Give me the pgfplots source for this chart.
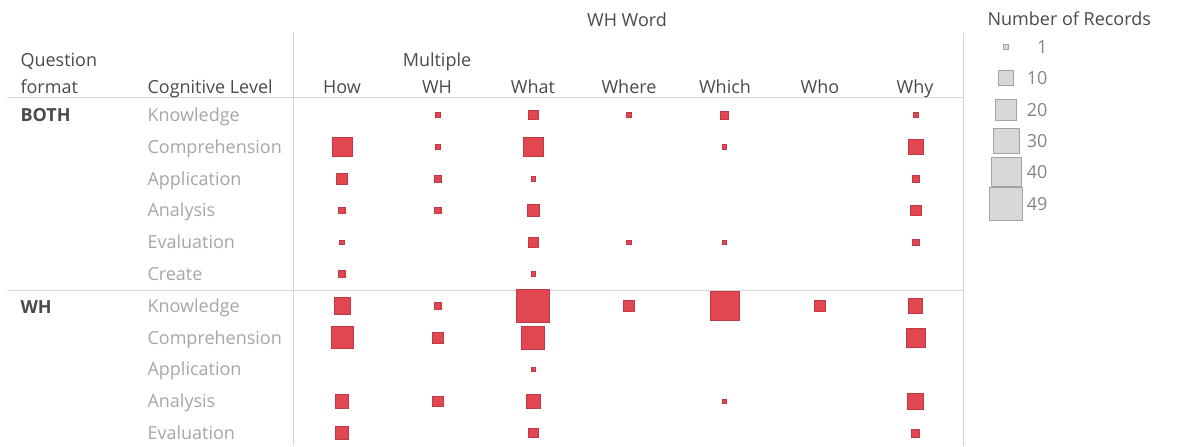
\documentclass[border=0pt]{standalone}
\usepackage{pgfplots}
\pgfplotsset{compat=1.18}
\usepackage{pgfplotstable}
\usepackage{fontspec}
\setmainfont{Open Sans}
\definecolor{tred}{HTML}{E2474F}
\definecolor{tredd}{HTML}{BF3A48}
\definecolor{hdr}{HTML}{4A4A4A}
\definecolor{lvl}{HTML}{A6A6A6}
\definecolor{gline}{HTML}{D6D6D6}
\definecolor{lgfill}{HTML}{D8D8D8}
\definecolor{lgdraw}{HTML}{A3A3A3}

% col: 0 How,1 Multiple WH,2 What,3 Where,4 Which,5 Who,6 Why
% row: 0-5 BOTH (Knowledge..Create), 6-10 WH (Knowledge..Evaluation)
\pgfplotstableread{
col row n
1 0 1
2 0 4
3 0 1
4 0 3
6 0 1
0 1 18
1 1 1
2 1 18
4 1 1
6 1 10
0 2 6
1 2 2
2 2 1
6 2 2
0 3 2
1 3 2
2 3 6
6 3 5
0 4 1
2 4 4
3 4 1
4 4 1
6 4 2
0 5 2
2 5 1
0 6 12
1 6 2
2 6 49
3 6 6
4 6 38
5 6 5
6 6 9
0 7 22
1 7 5
2 7 24
6 7 17
2 8 1
0 9 8
1 9 5
2 9 8
4 9 1
6 9 11
0 10 7
2 10 4
6 10 3
}\datatable

\pgfplotstableread{
px py n
1006 47 1
1006 78 10
1006 110 20
1006 141 30
1006 172 40
1006 204 49
}\legtable

\begin{document}
\begin{tikzpicture}
\begin{axis}[
  x=1bp, y=1bp, y dir=reverse,
  xmin=0, xmax=1197, ymin=0, ymax=446,
  hide axis, clip=false,
  font=\fontsize{18bp}{21bp}\selectfont,
]
\path (axis cs:0,0) rectangle (axis cs:1197,446);
% grid lines
\draw[gline, line width=1bp] (axis cs:7,97.5) -- (axis cs:963,97.5);
\draw[gline, line width=1bp] (axis cs:7,290.5) -- (axis cs:963,290.5);
\draw[gline, line width=1bp] (axis cs:293,32) -- (axis cs:293,446);
\draw[gline, line width=1bp] (axis cs:963,33) -- (axis cs:963,446);

% data
\addplot[scatter, only marks, mark=square*,
  scatter/use mapped color={draw=tredd, fill=tred},
  mark options={line width=0.6bp},
  visualization depends on={2.355*sqrt(\thisrow{n}) \as \msz},
  scatter/@pre marker code/.append style={/tikz/mark size=\msz bp},
  ] table[x expr={342+95.6*\thisrow{col}}, y expr={115+31.8*\thisrow{row}}] {\datatable};

% size legend
\addplot[scatter, only marks, mark=square*,
  scatter/use mapped color={draw=lgdraw, fill=lgfill},
  mark options={line width=0.8bp},
  visualization depends on={2.355*sqrt(\thisrow{n}) \as \msz},
  scatter/@pre marker code/.append style={/tikz/mark size=\msz bp},
  ] table[x=px, y=py] {\legtable};

% headers
\node[anchor=base, text=hdr] at (axis cs:627,27) {WH Word};
\node[anchor=base, text=hdr] at (axis cs:437,66.5) {Multiple};
\node[anchor=base west, text=hdr] at (axis cs:17,66.5) {Question};
\node[anchor=base west, text=hdr] at (axis cs:17,93.5) {format};
\node[anchor=base west, text=hdr] at (axis cs:144,93.5) {Cognitive Level};
\node[anchor=base, text=hdr] at (axis cs:342,93.5) {How};
\node[anchor=base, text=hdr] at (axis cs:437,93.5) {WH};
\node[anchor=base, text=hdr] at (axis cs:533,93.5) {What};
\node[anchor=base, text=hdr] at (axis cs:629,93.5) {Where};
\node[anchor=base, text=hdr] at (axis cs:725,93.5) {Which};
\node[anchor=base, text=hdr] at (axis cs:820,93.5) {Who};
\node[anchor=base, text=hdr] at (axis cs:915,93.5) {Why};

% row groups
\node[anchor=base west, text=hdr, font=\fontsize{18bp}{21bp}\selectfont\bfseries] at (axis cs:17,121.5) {BOTH};
\node[anchor=base west, text=hdr, font=\fontsize{18bp}{21bp}\selectfont\bfseries] at (axis cs:17,313.5) {WH};

% cognitive levels
\node[anchor=base west, text=lvl] at (axis cs:144,121.5) {Knowledge};
\node[anchor=base west, text=lvl] at (axis cs:144,153.3) {Comprehension};
\node[anchor=base west, text=lvl] at (axis cs:144,185.1) {Application};
\node[anchor=base west, text=lvl] at (axis cs:144,216.9) {Analysis};
\node[anchor=base west, text=lvl] at (axis cs:144,248.7) {Evaluation};
\node[anchor=base west, text=lvl] at (axis cs:144,280.5) {Create};
\node[anchor=base west, text=lvl] at (axis cs:144,312.3) {Knowledge};
\node[anchor=base west, text=lvl] at (axis cs:144,344.1) {Comprehension};
\node[anchor=base west, text=lvl] at (axis cs:144,375.9) {Application};
\node[anchor=base west, text=lvl] at (axis cs:144,407.7) {Analysis};
\node[anchor=base west, text=lvl] at (axis cs:144,439.5) {Evaluation};

% legend text
\node[anchor=base west, text=hdr] at (axis cs:984,25.5) {Number of Records};
\node[anchor=base east, text=lvl!80!black] at (axis cs:1051,53.5) {1};
\node[anchor=base east, text=lvl!80!black] at (axis cs:1051,84.5) {10};
\node[anchor=base east, text=lvl!80!black] at (axis cs:1051,116.5) {20};
\node[anchor=base east, text=lvl!80!black] at (axis cs:1051,147.5) {30};
\node[anchor=base east, text=lvl!80!black] at (axis cs:1051,178.5) {40};
\node[anchor=base east, text=lvl!80!black] at (axis cs:1051,210.5) {49};
\end{axis}
\end{tikzpicture}
\end{document}
